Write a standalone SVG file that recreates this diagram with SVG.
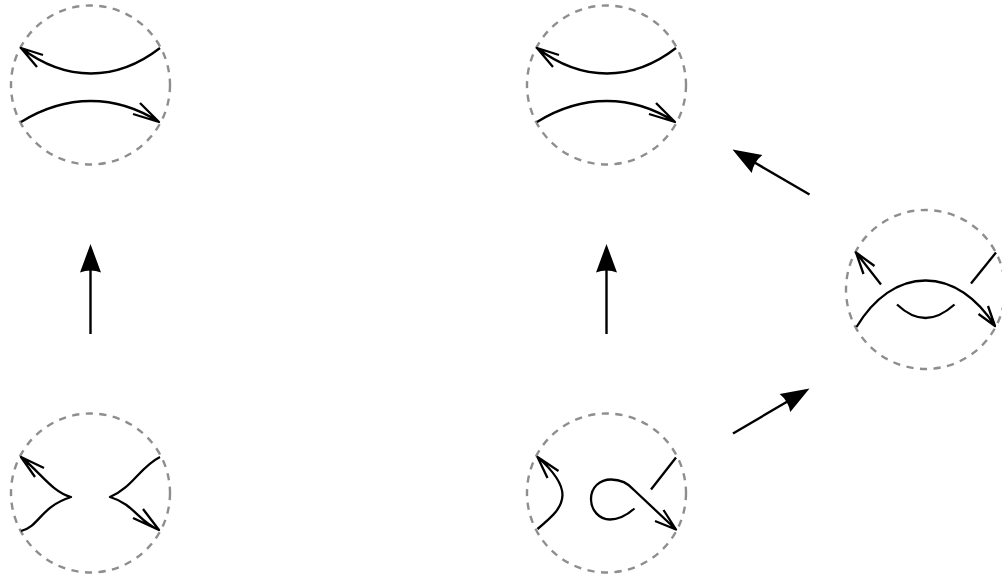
<svg xmlns="http://www.w3.org/2000/svg" width="1002" height="580" viewBox="0 0 1002 580">
<style>
.c{fill:none;stroke:#8e8e8e;stroke-width:2.400;stroke-dasharray:7.200 6.475}
.s{fill:none;stroke:#000;stroke-width:2.300;stroke-linecap:butt;stroke-linejoin:round}
.a{fill:none;stroke:#000;stroke-width:2.400}
</style>
<defs>
<path id="bighead" d="M0 0L10.500 28.500Q0 24.500 -10.500 28.500Z" fill="#000"/>
</defs>
<g id="connectors">
<g id="arrow-left"><line class="a" x1="90.500" y1="334" x2="90.500" y2="268"/><use href="#bighead" x="90.500" y="244"/></g>
<g id="arrow-mid"><line class="a" x1="606.500" y1="334" x2="606.500" y2="268"/><use href="#bighead" x="606.500" y="244"/></g>
<g id="arrow-upper"><line class="a" x1="809.500" y1="194.500" x2="752" y2="161"/><use href="#bighead" transform="translate(732.500 149.500) rotate(-59.500)"/></g>
<g id="arrow-lower"><line class="a" x1="733" y1="433.500" x2="790" y2="400"/><use href="#bighead" transform="translate(809.500 388.500) rotate(59.500)"/></g>
</g>
<g id="node-top-left">
<circle class="c" cx="90.500" cy="85" r="79.500"/>
<path class="s" d="M160 48C116 82 66 82 21 48M43 55L21 48L37 67"/>
<path class="s" d="M21 122C66 94 116 94 159 122M133 114L159 122L140 103"/>
</g>
<g id="node-top-mid">
<circle class="c" cx="606.500" cy="85" r="79.500"/>
<path class="s" d="M676 48C632 82 582 82 537 48M559 55L537 48L553 67"/>
<path class="s" d="M537 122C582 94 632 94 675 122M649 114L675 122L656 103"/>
</g>
<g id="node-bottom-left">
<circle class="c" cx="90.500" cy="493" r="79.500"/>
<path class="s" d="M21 531C40 526 40 507 71 497C52 492 40 472 21 457M44 468L21 457L35 477"/>
<path class="s" d="M160 457C140 467 132 488 110 497C134 504 139 522 159 530M133 518L159 530L143 509"/>
</g>
<g id="node-bottom-mid">
<circle class="c" cx="606.500" cy="493" r="79.500"/>
<path class="s" d="M537.500 529C553 516 562 508 562.500 495C562.500 482 550 468 537.500 457M558.500 471L537.500 457L547.500 478"/>
<path class="s" d="M634.500 508.500C626 516 618 519.500 610 519.500C599 519.500 591 510 591 499C591 487 600 479.500 611 479.500C621 479.500 628 483 634 490L676 529.500M655 521L676 529.500L663.500 510"/>
<path class="s" d="M651 489.500L676 457.500"/>
</g>
<g id="node-right">
<circle class="c" cx="925.500" cy="289.500" r="79.500"/>
<path class="s" d="M881 284.500L856 252.500M874.500 266L856 252.500L863.500 274"/>
<path class="s" d="M971 283.500L996 252.500"/>
<path class="s" d="M856.500 327C874 298 898 280.500 925.500 280.500C953 280.500 977 298 995 326M978.500 314L995 326L988 306"/>
<path class="s" d="M897 304.500C906 313 915 318 925.500 318C936 318 945 313 954.500 304.500"/>
</g>
</svg>
